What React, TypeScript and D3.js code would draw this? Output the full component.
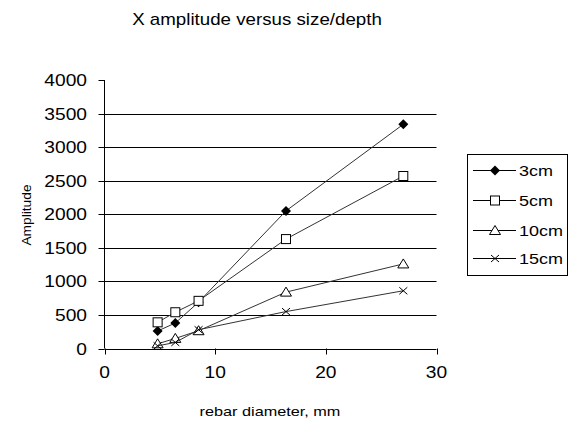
import React from 'react'
import * as d3 from 'd3'

const diameters = [4.8, 6.4, 8.5, 16.4, 27]
const amp3cm = [260, 380, 690, 2050, 3340]
const amp5cm = [390, 540, 710, 1630, 2570]
const amp10cm = [70, 150, 265, 840, 1260]
const amp15cm = [40, 90, 280, 550, 860]
const seriesNames = ['3cm', '5cm', '10cm', '15cm']
const markers = ['diamond', 'square', 'triangle', 'cross']
const xTicks = [0, 10, 20, 30]
const yTicks = [0, 500, 1000, 1500, 2000, 2500, 3000, 3500, 4000]

const series = [amp3cm, amp5cm, amp10cm, amp15cm].map((vals, i) => ({
  name: seriesNames[i],
  marker: markers[i],
  points: vals.map((v, j) => ({ x: diameters[j], y: v }))
}))

const font = 'Arial, "Liberation Sans", sans-serif'

// the original text looks horizontally stretched, so scale it a bit in x
const Txt = ({ x, y, size, anchor = 'start', rotate = 0, sx = 1.2, children }: any) => (
  <text
    transform={`translate(${x},${y}) rotate(${rotate}) scale(${sx},1)`}
    textAnchor={anchor}
    fontFamily={font}
    fontSize={size}
  >
    {children}
  </text>
)

const Marker = ({ type, cx, cy }: { type: string; cx: number; cy: number }) => {
  if (type === 'diamond') {
    return <path d={`M${cx},${cy - 5}L${cx + 5},${cy}L${cx},${cy + 5}L${cx - 5},${cy}Z`} fill='#000' />
  }
  if (type === 'square') {
    return <rect x={cx - 4.5} y={cy - 4.5} width={9} height={9} fill='#fff' stroke='#000' strokeWidth={1} />
  }
  if (type === 'triangle') {
    return <path d={`M${cx},${cy - 5}L${cx + 5.5},${cy + 4}L${cx - 5.5},${cy + 4}Z`} fill='#fff' stroke='#000' strokeWidth={1} />
  }
  return (
    <path d={`M${cx - 4},${cy - 3.5}L${cx + 4},${cy + 3.5}M${cx - 4},${cy + 3.5}L${cx + 4},${cy - 3.5}`} stroke='#000' strokeWidth={1} fill='none' />
  )
}

const App = () => {
  const left = 104.5
  const right = 436.5
  const top = 80
  const bottom = 348.5

  const xScale = d3.scaleLinear().domain([0, 30]).range([left, right])
  const yScale = d3.scaleLinear().domain([0, 4000]).range([bottom, top])

  const line = d3
    .line<{ x: number; y: number }>()
    .x(d => xScale(d.x))
    .y(d => yScale(d.y))

  return (
    <svg width={574} height={423} style={{ position: 'absolute', left: 0, top: 0, background: '#fff' }}>
      <Txt x={257} y={25} size={16} anchor='middle' sx={1.17}>
        X amplitude versus size/depth
      </Txt>

      {/* gridlines */}
      {yTicks
        .filter(t => t > 0 && t < 4000)
        .map(t => (
          <line key={t} x1={left} x2={right} y1={Math.round(yScale(t)) + 0.5} y2={Math.round(yScale(t)) + 0.5} stroke='#000' strokeWidth={1} />
        ))}

      {/* y axis */}
      <line x1={left} x2={left} y1={top} y2={bottom} stroke='#000' />
      {yTicks.map(t => (
        <g key={t}>
          <line x1={left - 6} x2={left} y1={Math.round(yScale(t)) + 0.5} y2={Math.round(yScale(t)) + 0.5} stroke='#000' />
          <Txt x={87} y={yScale(t) + 6} size={16} anchor='end'>
            {t}
          </Txt>
        </g>
      ))}

      {/* x axis */}
      <line x1={left} x2={right} y1={Math.round(bottom) + 0.5} y2={Math.round(bottom) + 0.5} stroke='#000' />
      {xTicks.map(t => (
        <g key={t}>
          <line x1={Math.round(xScale(t)) + 0.5} x2={Math.round(xScale(t)) + 0.5} y1={bottom} y2={bottom + 6} stroke='#000' />
          <Txt x={xScale(t)} y={378} size={16} anchor='middle'>
            {t}
          </Txt>
        </g>
      ))}

      <Txt x={270} y={416} size={13} anchor='middle' sx={1.25}>
        rebar diameter, mm
      </Txt>
      <Txt x={31} y={215} size={12.5} anchor='middle' rotate={-90} sx={1.1}>
        Amplitude
      </Txt>

      {/* series */}
      {series.map(s => (
        <g key={s.name}>
          <path d={line(s.points) || ''} fill='none' stroke='#333' strokeWidth={1} />
          {s.points.map((p, i) => (
            <Marker key={i} type={s.marker} cx={xScale(p.x)} cy={yScale(p.y)} />
          ))}
        </g>
      ))}

      {/* legend */}
      <rect x={467.5} y={154.5} width={100} height={121} fill='#fff' stroke='#000' />
      {series.map((s, i) => {
        const ly = [170, 200, 230, 258][i]
        return (
          <g key={s.name}>
            <line x1={473} x2={516} y1={ly + 0.5} y2={ly + 0.5} stroke='#000' />
            <Marker type={s.marker} cx={495} cy={ly + 0.5} />
            <Txt x={519} y={ly + 6} size={15}>
              {s.name}
            </Txt>
          </g>
        )
      })}
    </svg>
  )
}

export default App
